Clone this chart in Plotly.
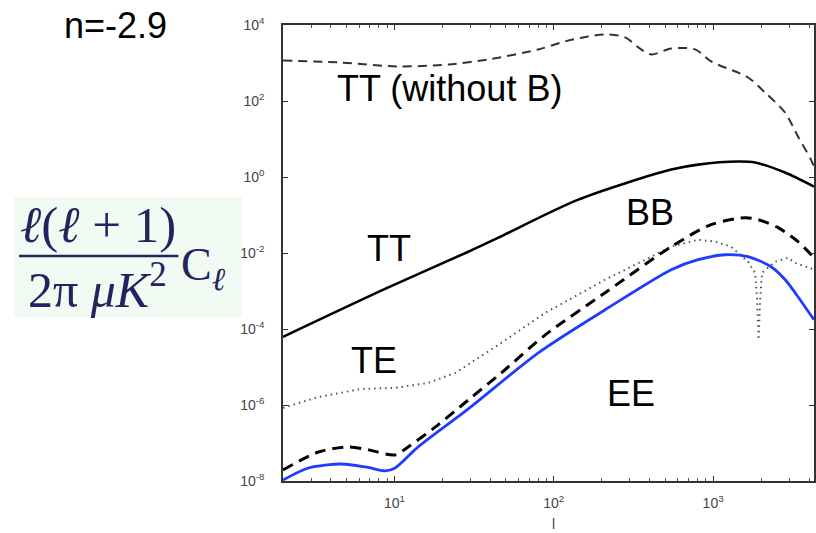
import plotly.graph_objects as go

# ---------------- data ----------------
ell_TT = [2, 8.8, 29.1, 44.9, 142.6, 546, 805, 1435, 1834, 2826, 4296]
TT = [6.2e-5, 1.15e-3, 1.08e-2, 2.53e-2, 0.254, 1.57, 2.12, 2.55, 2.40, 1.31, 0.558]

ell_TTnoB = [2, 4.46, 10.6, 21.8, 38.8, 80, 118, 164, 220, 281, 339, 409, 546, 771,
             971, 1656, 2117, 2826, 3410, 4111, 4296]
TTnoB = [1167, 1035, 811, 916, 1241, 2277, 3700, 5010, 5650, 4710, 2570, 1680, 2415, 2275,
         1099, 416, 167, 49.8, 11.6, 2.87, 1.87]

ell_TE = [2, 3.34, 6.21, 10.1, 16.3, 24.1, 46.9, 88.5, 210, 546, 805, 1030, 1298, 1656,
          1834, 1888, 1928, 1972, 2029, 2448, 2954, 3268, 4296]
TE = [8.4e-7, 1.63e-6, 2.65e-6, 2.82e-6, 3.82e-6, 7.0e-6, 4.33e-5, 2.67e-4, 1.98e-3,
      1.466e-2, 2.24e-2, 1.99e-2, 1.466e-2, 5.9e-3, 3.03e-3, 5.9e-4, 5.2e-5, 5.9e-4,
      3.03e-3, 5.9e-3, 7.5e-3, 5.5e-3, 3.63e-3]

ell_BB = [2, 3.34, 5.15, 6.9, 10.1, 12.2, 18.1, 29.1, 46.9, 88.5, 210, 546, 971, 1589,
          1914, 2559, 3410, 4296]
BB = [1.95e-8, 5.8e-8, 7.9e-8, 6.6e-8, 4.85e-8, 7.9e-8, 2.65e-7, 1.36e-6, 7.0e-6, 7.0e-5,
      9.0e-4, 1.466e-2, 5.57e-2, 8.51e-2, 7.54e-2, 4.64e-2, 1.99e-2, 7.5e-3]

ell_EE = [2, 2.89, 4.66, 6.58, 8.79, 10.1, 14.1, 29.1, 80, 210, 546, 805, 1189, 1656,
          2310, 2826, 3268, 4296]
EE = [1.06e-8, 2.2e-8, 2.8e-8, 2.34e-8, 1.84e-8, 2.2e-8, 7.9e-8, 7.9e-7, 2.36e-5, 3.2e-4,
      3.63e-3, 6.67e-3, 9.0e-3, 7.98e-3, 4.35e-3, 2.0e-3, 9.0e-4, 1.75e-4]

y_tickvals = [1e-8, 1e-6, 1e-4, 1e-2, 1e0, 1e2, 1e4]
y_ticktext = ["10<sup>-8</sup>", "10<sup>-6</sup>", "10<sup>-4</sup>", "10<sup>-2</sup>",
              "10<sup>0</sup>", "10<sup>2</sup>", "10<sup>4</sup>"]
x_tickvals = [10, 100, 1000]
x_ticktext = ["10<sup>1</sup>", "10<sup>2</sup>", "10<sup>3</sup>"]
x_minor = [m * d for d in (1, 10, 100, 1000) for m in range(2, 10)]

curve_labels = ["TT (without B)", "TT", "BB", "TE", "EE"]

# ---------------- layout geometry (pixels) ----------------
W, H = 816, 533
L, R, T, B = 283, 816, 25, 481


def px(x):
    return (x - L) / (R - L)


def py(y):
    return (B - y) / (B - T)


fig = go.Figure()

fig.add_trace(go.Scatter(x=ell_TTnoB, y=TTnoB, mode="lines",
                         line=dict(color="#333333", width=2, dash="9px,6px", shape="spline", smoothing=0.8)))
fig.add_trace(go.Scatter(x=ell_TT, y=TT, mode="lines",
                         line=dict(color="#000000", width=2.6, shape="spline", smoothing=0.8)))
fig.add_trace(go.Scatter(x=ell_TE, y=TE, mode="lines",
                         line=dict(color="#555555", width=2, dash="1.5px,4px")))
fig.add_trace(go.Scatter(x=ell_BB, y=BB, mode="lines",
                         line=dict(color="#000000", width=3, dash="11px,7px", shape="spline", smoothing=0.8)))
fig.add_trace(go.Scatter(x=ell_EE, y=EE, mode="lines",
                         line=dict(color="#1f3cff", width=2.8, shape="spline", smoothing=0.8)))

label_font = dict(family="Liberation Sans, Arial, sans-serif", size=36, color="#000000")
label_pos = [(450, 88), (389, 248), (651, 213), (374, 360), (632, 393)]
for txt, (lx, ly) in zip(curve_labels, label_pos):
    fig.add_annotation(x=px(lx), y=py(ly), xref="paper", yref="paper", text=txt,
                       showarrow=False, font=label_font, xanchor="center", yanchor="middle")

# title-like label
fig.add_annotation(x=px(115), y=py(25), xref="paper", yref="paper", text="n=-2.9",
                   showarrow=False, font=label_font, xanchor="center", yanchor="middle")

# y-axis label formula block
navy = "#23235e"
serif = "Liberation Serif, Times New Roman, DejaVu Serif, serif"
fig.add_shape(type="rect", xref="paper", yref="paper",
              x0=px(13), x1=px(242), y0=py(317), y1=py(197),
              fillcolor="#f1fbf3", line=dict(width=0), layer="below")
fig.add_shape(type="line", xref="paper", yref="paper",
              x0=px(18), x1=px(178), y0=py(256), y1=py(256),
              line=dict(color=navy, width=2.5))
fig.add_annotation(x=px(97), y=py(225), xref="paper", yref="paper",
                   text="<i>ℓ</i>(<i>ℓ</i> + 1)", showarrow=False,
                   font=dict(family=serif, size=51, color=navy), xanchor="center", yanchor="middle")
fig.add_annotation(x=px(97), y=py(286), xref="paper", yref="paper",
                   text="2π <i>μK</i><sup>2</sup>", showarrow=False,
                   font=dict(family=serif, size=50, color=navy), xanchor="center", yanchor="middle")
fig.add_annotation(x=px(179), y=py(268), xref="paper", yref="paper",
                   text="C<sub><i>ℓ</i></sub>", showarrow=False,
                   font=dict(family=serif, size=46, color=navy), xanchor="left", yanchor="middle")

# x-axis title "l"
fig.add_annotation(x=px(555), y=py(524), xref="paper", yref="paper", text="l",
                   showarrow=False, font=dict(family="Liberation Sans, Arial", size=14, color="#444444"),
                   xanchor="center", yanchor="middle")

axis_common = dict(showline=True, linecolor="#333333", linewidth=1.5, mirror="ticks",
                   ticks="inside", ticklen=5, tickcolor="#333333", tickwidth=1,
                   showgrid=False, zeroline=False,
                   tickfont=dict(family="Liberation Sans, Arial", size=14, color="#444444"))

fig.update_xaxes(type="log", range=[0.301, 3.633], tickmode="array",
                 tickvals=x_tickvals, ticktext=x_ticktext, ticklabelstandoff=8,
                 minor=dict(tickvals=x_minor, ticks="inside", ticklen=3, tickcolor="#555555"),
                 **axis_common)
fig.update_yaxes(type="log", range=[-8, 4], tickmode="array",
                 tickvals=y_tickvals, ticktext=y_ticktext, ticklabelstandoff=14,
                 **axis_common)

fig.update_layout(width=W, height=H, autosize=False, showlegend=False,
                  margin=dict(l=L, r=W - R, t=T, b=H - B, pad=0),
                  paper_bgcolor="white", plot_bgcolor="white")

fig.write_html("out.html", config={"displayModeBar": False},
               post_script="document.body.style.margin='0px';document.body.style.overflow='hidden';")
